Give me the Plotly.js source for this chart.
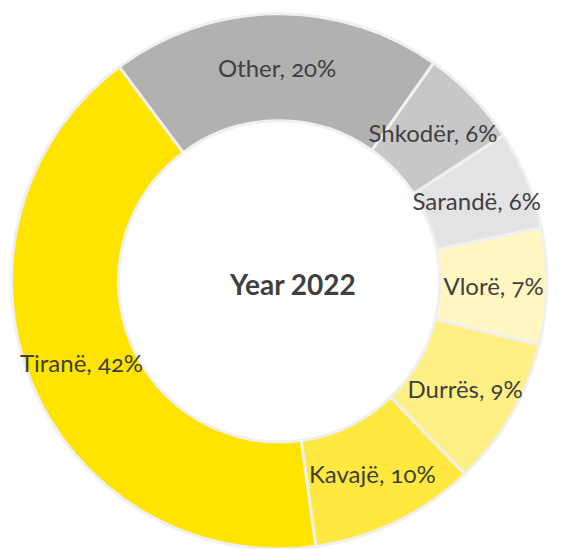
<!DOCTYPE html>
<html>
<head>
<meta charset="utf-8">
<script src="https://cdn.plot.ly/plotly-3.0.1.min.js"></script>
<style>
html,body{margin:0;padding:0;background:#fff;}
#chart{width:587px;height:549px;}
#chart .annotation-text.lbl, #chart .annotation text{font-variant-numeric:oldstyle-nums;font-feature-settings:"onum" 1;}
#chart .annotation.title-ann text{font-variant-numeric:lining-nums;font-feature-settings:"lnum" 1;}
</style>
</head>
<body>
<div id="chart"></div>
<script>
const cities = ["Other", "Shkodër", "Sarandë", "Vlorë", "Durrës", "Kavajë", "Tiranë"];
const shares = [20, 6, 6, 7, 9, 10, 42];
const sliceColors = ["#b1b1b1", "#c7c7c7", "#e3e3e3", "#fff6c2", "#fff085", "#ffe83f", "#ffe400"];
const centerTitle = "Year 2022";

const W = 587, H = 549;
const dom = { x: [0.017, 0.934], y: [0, 0.975] };
const rotation = -36.7;
const hole = 0.6;

const trace = {
  type: "pie",
  labels: cities,
  values: shares,
  sort: false,
  direction: "clockwise",
  rotation: rotation,
  hole: hole,
  marker: { colors: sliceColors, line: { color: "#f0f0f0", width: 3 } },
  textinfo: "none",
  domain: dom,
  showlegend: false,
  hoverinfo: "label+percent"
};

// slice labels at the middle of each slice's ring segment, derived from the values
const total = shares.reduce((a, b) => a + b, 0);
const cx = (dom.x[0] + dom.x[1]) / 2;
const cy = (dom.y[0] + dom.y[1]) / 2;
const rPx = Math.min((dom.x[1] - dom.x[0]) * W, (dom.y[1] - dom.y[0]) * H) / 2;
const rMid = rPx * (1 + hole) / 2;
let cum = 0;
const labelAnns = cities.map((c, i) => {
  const mid = rotation + 360 * (cum + shares[i] / 2) / total;
  cum += shares[i];
  const a = mid * Math.PI / 180;
  return {
    text: c + ", " + Math.round(100 * shares[i] / total) + "%",
    x: cx + rMid * Math.sin(a) / W,
    y: cy + rMid * Math.cos(a) / H,
    xref: "paper", yref: "paper",
    xanchor: "center", yanchor: "middle",
    showarrow: false,
    font: { family: "Lato, sans-serif", size: 24, color: "#404040" }
  };
});

const layout = {
  width: W, height: H,
  margin: { l: 0, r: 0, t: 0, b: 0 },
  paper_bgcolor: "#ffffff",
  annotations: labelAnns.concat([{
    text: "<b>" + centerTitle + "</b>",
    x: 0.498, y: 0.483, xref: "paper", yref: "paper",
    showarrow: false,
    font: { family: "Lato, sans-serif", size: 28, color: "#404040" }
  }])
};

Plotly.newPlot("chart", [trace], layout, { displayModeBar: false, staticPlot: true }).then(() => {
  const anns = document.querySelectorAll("#chart .annotation");
  anns.forEach((g, i) => {
    g.querySelectorAll("text").forEach(t => {
      t.style.fontVariantNumeric = i < cities.length ? "oldstyle-nums" : "lining-nums";
    });
  });
});
</script>
</body>
</html>
